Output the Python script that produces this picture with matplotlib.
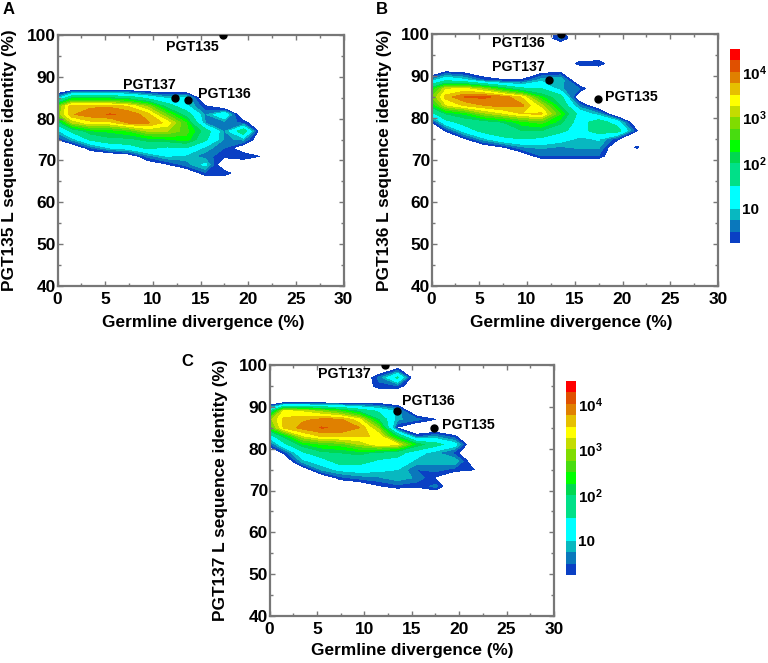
import numpy as np
import matplotlib
matplotlib.use("Agg")
import matplotlib.pyplot as plt

plt.rcParams['font.family'] = ['Liberation Sans', 'DejaVu Sans']
plt.rcParams['mathtext.fontset'] = 'custom'
plt.rcParams['mathtext.bf'] = 'Liberation Sans:bold'
plt.rcParams['mathtext.rm'] = 'Liberation Sans:bold'
plt.rcParams['mathtext.default'] = 'bf'

W, H = 768, 663
GREY = '#777777'

# germline divergence bin centres (%) and identity bin centres (%)
divergence = [0, 1.5, 3.5, 5.5, 7.5, 9.5, 11.5, 13.5, 15.5, 17.5, 19.5, 21.5, 23.5]
identity = list(range(101, 61, -2))
EMPTY = -0.3   # log10 floor for bins holding no sequences

# log10(sequence count): one entry per divergence bin, (top identity, values going down)
panel_a_counts = [
    [(85, [.8, 2.7, 2.8, 1.7, .9, .25])],
    [(87, [-.1, 2.0, 3.7, 3.72, 3.0, 1.6, .8])],
    [(87, [-.1, 2.0, 3.7, 3.9, 3.4, 2.2, 1.6, .5])],
    [(87, [-.05, 2.0, 3.7, 4.02, 3.4, 2.3, 1.9, 1.0])],
    [(87, [-.05, 1.8, 3.45, 3.95, 3.78, 2.5, 1.9, 1.2, -.1])],
    [(87, [-.2, 1.3, 2.9, 3.6, 3.78, 3.0, 2.1, 1.6, .6, -.1])],
    [(87, [-.2, .9, 1.8, 2.7, 3.4, 3.0, 2.2, 1.4, 1.0, .2])],
    [(85, [1.1, 1.1, 1.8, 2.5, 2.6, 2.4, 1.5, .9, .6, -.2])],
    [(83, [.3, .7, .75, 1.8, 1.6, .9, .6, 1.1, .45])],
    [(81, [1.4, .6, .7, .7, .5, .35]), (67, [.5])],
    [(79, [.45, 1.9, .8, -.1, .5, -.2])],
    [(71, [.2, .2])],
    [],
]
panel_b_counts = [
    [(89, [.8, 2.2, 2.7, 2.2, 1.3, .2])],
    [(91, [.25, 1.4, 3.2, 3.6, 3.2, 2.0, 1.3, .3])],
    [(91, [.1, 1.1, 3.3, 4.0, 3.55, 2.3, 1.7, 1.2, .2])],
    [(91, [-.2, .5, 2.9, 4.05, 3.75, 2.9, 1.8, 1.7, .9, -.1])],
    [(89, [.3, 2.2, 3.9, 3.85, 3.2, 2.0, 1.8, 1.4, .2])],
    [(89, [.3, 1.6, 3.45, 3.8, 3.5, 2.4, 2.0, 1.5, .7, -.1])],
    [(91, [.1, .9, 1.5, 2.3, 3.1, 3.55, 2.6, 2.0, 1.4, .8, .5])],
    [(101, [.4, .6]), (91, [.2, 1.0, .8, 1.7, 2.0, 2.5, 2.1, 1.6, 1.2, .7, .5])],
    [(93, [.4]), (87, [.5, -.2, .6, 1.3, 1.2, 1.3, .9, .8, .5])],
    [(93, [.5]), (83, [-.2, .8, 1.8, 1.75, 1.05, .8, .5])],
    [(79, [1.2, 1.75, .3])],
    [(77, [.28]), (73, [.32])],
    [],
]
panel_c_counts = [
    [(89, [1.5, 2.9, 2.5, 1.2, .4])],
    [(91, [.2, 3.3, 3.55, 3.55, 2.1, 1.3, .3])],
    [(91, [.2, 3.2, 3.7, 3.85, 3.2, 2.2, 1.4, .9, -.1])],
    [(91, [.15, 2.9, 3.8, 4.02, 3.55, 2.5, 1.9, 1.2, .8, -.2])],
    [(91, [.1, 2.5, 3.8, 3.95, 3.6, 2.6, 2.0, 1.8, 1.1, .4])],
    [(91, [.1, 1.9, 3.3, 3.75, 3.55, 3.0, 2.1, 1.7, 1.2, .6, -.2])],
    [(97, [.55, .45]), (91, [.1, 1.4, 2.0, 2.9, 3.45, 3.4, 1.9, 1.4, 1.1, .7, .2])],
    [(99, [.3, 1.6, .5]), (91, [-.1, .9, .8, .2, 2.0, 3.3, 1.7, 1.3, 1.0, .9, .4])],
    [(87, [.6, -.3, .4, 2.2, 1.2, .9, .5, .7, .3])],
    [(87, [.25, -.3, .7, 1.7, .8, .85, .6, .2, .6, -.2])],
    [(83, [.3, 1.2, .4, 1.0, .4])],
    [(77, [-.1, .27])],
    [],
]

# reference sequences: name, divergence, identity
panel_a_refs = [('PGT135', 17.4, 100), ('PGT137', 12.3, 85), ('PGT136', 13.7, 84.5)]
panel_b_refs = [('PGT136', 13.6, 100), ('PGT137', 12.3, 89), ('PGT135', 17.4, 84.5)]
panel_c_refs = [('PGT137', 12.2, 100), ('PGT136', 13.4, 89), ('PGT135', 17.3, 85)]

band_colors = ['#0a40c4', '#0a78bc', '#08b8c0', '#00ffff', '#00ffff', '#00e088', '#00e088',
               '#00d850', '#00ff00', '#48dc10', '#80dc00', '#c4dc00', '#ffff00', '#e6c000',
               '#e08000', '#e05000', '#ff0000']
band_levels = [0.25 * k for k in range(1, 19)]
xticks = [0, 5, 10, 15, 20, 25, 30]
yticks = [40, 50, 60, 70, 80, 90, 100]
cbar_ticks = [1, 2, 3, 4]
cbar_labels = ['10', r'$\mathbf{10^{2}}$', r'$\mathbf{10^{3}}$', r'$\mathbf{10^{4}}$']


def grid(columns):
    Z = np.full((len(identity), len(divergence)), EMPTY, dtype=float)
    for j, segs in enumerate(columns):
        for top, vals in segs:
            i = identity.index(top)
            Z[i:i + len(vals), j] = vals
    return Z


def box(l, r, t, b):
    return [l / W, 1 - b / H, (r - l) / W, (b - t) / H]


fig = plt.figure(figsize=(W / 100, H / 100), dpi=100, facecolor='white')


def panel(rect, columns, refs, label_pos, ylabel, ylab_x, letter, letter_xy, xlab_xy):
    ax = fig.add_axes(box(*rect))
    X, Y = np.meshgrid(divergence, identity)
    cs = ax.contourf(X, Y, grid(columns), levels=band_levels, colors=band_colors, zorder=1)
    ax.set_xlim(0, 30)
    ax.set_ylim(40, 100)
    ax.set_xticks(xticks)
    ax.set_yticks(yticks)
    ax.set_xticks(np.arange(0, 30.1, 2.5), minor=True)
    ax.set_yticks(np.arange(40, 100.1, 5), minor=True)
    ax.tick_params(which='major', direction='in', top=True, right=True, length=3.5, width=1,
                   color=GREY, labelsize=12.5)
    ax.tick_params(axis='x', which='major', pad=4)
    ax.tick_params(axis='y', which='major', pad=1)
    ax.tick_params(which='minor', direction='in', top=True, right=True, length=2, width=1, color=GREY)
    for lab in ax.get_xticklabels() + ax.get_yticklabels():
        lab.set_fontweight('bold')
    for s in ax.spines.values():
        s.set_color(GREY)
        s.set_linewidth(1.6)
    for (name, dx, dy), (tx, ty) in zip(refs, label_pos):
        ax.plot(dx, dy, 'o', color='black', ms=5, zorder=5)
        ax.text(tx, ty, name, ha='center', va='center', fontsize=10.2, fontweight='bold', zorder=6)
    fig.text(xlab_xy[0] / W, 1 - xlab_xy[1] / H, 'Germline divergence (%)', ha='center', va='center',
             fontsize=12.4, fontweight='bold')
    fig.text(ylab_x / W, 1 - (rect[2] + rect[3]) / 2 / H, ylabel, rotation=90, ha='center', va='center',
             fontsize=12.4, fontweight='bold')
    fig.text(letter_xy[0] / W, 1 - letter_xy[1] / H, letter, ha='center', va='center',
             fontsize=12, fontweight='bold')
    return cs


def cbar(cs, rect):
    cax = fig.add_axes(box(*rect))
    cb = fig.colorbar(cs, cax=cax, ticks=cbar_ticks, spacing='uniform')
    cb.outline.set_visible(False)
    cb.ax.tick_params(length=0, labelsize=11, pad=2)
    cb.ax.set_yticklabels(cbar_labels, fontweight='bold')


panel((57.5, 343.5, 35, 286), panel_a_counts, panel_a_refs,
      [(14.2, 97.2), (9.6, 88.1), (17.5, 85.9)],
      'PGT135 L sequence identity (%)', 10, 'A', (9, 10), (203, 322))
cs_b = panel((431.5, 718, 34, 286), panel_b_counts, panel_b_refs,
             [(9.1, 97.9), (9.1, 92.2), (20.9, 85)],
             'PGT136 L sequence identity (%)', 384, 'B', (382, 10), (571, 322))
cs_c = panel((269.5, 554, 365, 616), panel_c_counts, panel_c_refs,
             [(7.85, 97.9), (16.8, 91.4), (21, 85.7)],
             'PGT137 L sequence identity (%)', 221, 'C', (187, 362), (412, 651))
cbar(cs_b, (730, 739.5, 49, 243))
cbar(cs_c, (566, 575.5, 381, 575))

fig.savefig('out.png', dpi=100)
